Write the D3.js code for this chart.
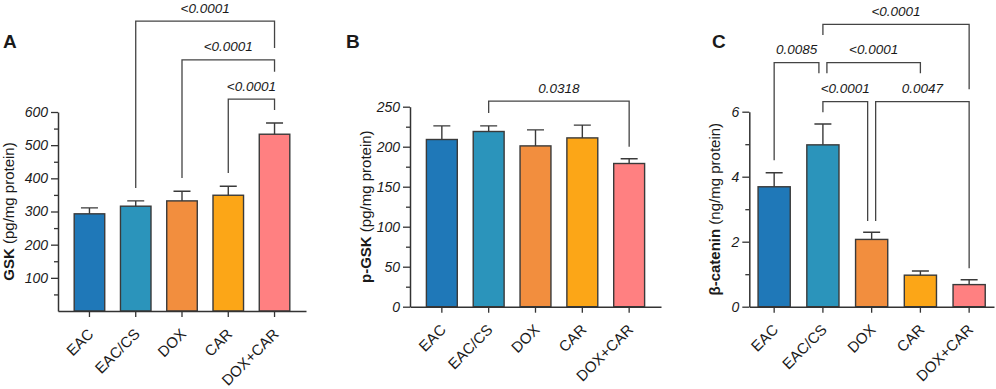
<!DOCTYPE html>
<html>
<head>
<meta charset="utf-8">
<script src="https://cdn.jsdelivr.net/npm/d3@7"></script>
<style>
    body { margin: 0; background: #fff; }
    text { font-family: Arial, "Liberation Sans", Helvetica, sans-serif; fill: #1a1a1a; }
</style>
</head>
<body>
<div id="chart"></div>
<script>
// groups and bar colours (shared by all three panels)
const groups = ["EAC", "EAC/CS", "DOX", "CAR", "DOX+CAR"];
const barColors = ["#1f78b8", "#2b94bb", "#f28e3e", "#fca617", "#ff8081"];

// Panel A: GSK (pg/mg protein)
const gskMean = [293, 316, 332, 349, 533];
const gskSem = [18, 16, 29, 27, 34];
const gskTicks = [100, 200, 300, 400, 500, 600];
const gskMinor = [50, 150, 250, 350, 450, 550];
const gskBrackets = [
    {a: "EAC/CS", b: "DOX+CAR", y: 874, ya: 371, yb: 793, p: "<0.0001"},
    {a: "DOX", b: "DOX+CAR", y: 757, ya: 401, yb: 721, p: "<0.0001"},
    {a: "CAR", b: "DOX+CAR", y: 639, ya: 416, yb: 606, p: "<0.0001"}
];

// Panel B: p-GSK (pg/mg protein)
const pgskMean = [209, 219, 201, 211, 179];
const pgskSem = [17, 7, 20, 16, 6];
const pgskTicks = [0, 50, 100, 150, 200, 250];
const pgskMinor = [25, 75, 125, 175, 225];
const pgskBrackets = [
    {a: "EAC/CS", b: "DOX+CAR", y: 257, ya: 242, yb: 200, p: "0.0318"}
];

// Panel C: beta-catenin (ng/mg protein)
const bcatMean = [3.69, 4.98, 2.07, 0.97, 0.68];
const bcatSem = [0.43, 0.64, 0.22, 0.13, 0.15];
const bcatTicks = [0, 2, 4, 6];
const bcatMinor = [1, 3, 5];
const bcatBrackets = [
    {a: "EAC/CS", b: "DOX+CAR", y: 8.69, ya: 8.36, yb: 6.69, p: "<0.0001"},
    {a: "EAC", b: "EAC/CS", y: 7.51, ya: 4.51, yb: 7.18, p: "0.0085"},
    {a: "EAC/CS", b: "CAR", y: 7.51, ya: 7.18, yb: 7.18, p: "<0.0001"},
    {a: "EAC/CS", b: "DOX", y: 6.31, ya: 5.98, yb: 2.64, p: "<0.0001"},
    {a: "DOX", b: "DOX+CAR", y: 6.31, ya: 2.64, yb: 1.18, p: "0.0047"}
];

const svg = d3.select("#chart").append("svg")
    .attr("width", 996)
    .attr("height", 389);

const axisColor = "#333";

function drawPanel(cfg) {
    let g = svg.append("g");

    let x = d3.scaleBand()
        .domain(groups)
        .range([cfg.x0, cfg.x1])
        .paddingInner(0.34)
        .paddingOuter(cfg.outer);

    let y = d3.scaleLinear()
        .domain([0, cfg.max])
        .range([cfg.bottom, cfg.top]);

    // bars
    g.selectAll(".bar")
        .data(cfg.mean)
        .enter()
        .append("rect")
        .attr("x", (d, i) => x(groups[i]))
        .attr("y", d => y(d))
        .attr("width", x.bandwidth())
        .attr("height", d => y(0) - y(d))
        .attr("fill", (d, i) => barColors[i])
        .attr("stroke", "#3a3a3a")
        .attr("stroke-width", 1.4);

    // upper error bars with cap
    let cx = i => x(groups[i]) + x.bandwidth() / 2;
    let capW = 8.5;
    g.selectAll(".err")
        .data(cfg.mean)
        .enter()
        .append("path")
        .attr("d", (d, i) => {
            let top = y(d + cfg.sem[i]);
            return `M${cx(i)},${y(d)}V${top}M${cx(i) - capW},${top}H${cx(i) + capW}`;
        })
        .attr("fill", "none")
        .attr("stroke", "#3a3a3a")
        .attr("stroke-width", 1.4);

    // y axis: major and minor ticks
    let yAxis = g.append("g")
        .attr("transform", `translate(${cfg.x0},0)`)
        .attr("color", axisColor)
        .call(d3.axisLeft(y).tickValues(cfg.ticks).tickSize(7).tickPadding(3).tickSizeOuter(0).tickFormat(d3.format("d")));
    yAxis.select(".domain").attr("stroke-width", 1.5);
    yAxis.selectAll(".tick line").attr("stroke-width", 1.3);
    yAxis.selectAll(".tick text")
        .attr("fill", "#1a1a1a")
        .style("font-size", "14px")
        .style("font-style", "italic");

    let yMinor = g.append("g")
        .attr("transform", `translate(${cfg.x0},0)`)
        .attr("color", axisColor)
        .call(d3.axisLeft(y).tickValues(cfg.minor).tickSize(4).tickFormat(""));
    yMinor.select(".domain").remove();
    yMinor.selectAll(".tick line").attr("stroke-width", 1.3);

    // x axis
    let xAxis = g.append("g")
        .attr("transform", `translate(0,${cfg.bottom})`)
        .attr("color", axisColor)
        .call(d3.axisBottom(x).tickSize(6).tickSizeOuter(0));
    xAxis.select(".domain").attr("stroke-width", 1.5);
    xAxis.selectAll(".tick line").attr("stroke-width", 1.3);
    xAxis.selectAll(".tick text")
        .attr("fill", "#1a1a1a")
        .attr("x", 0)
        .attr("y", 0)
        .attr("dy", 0)
        .attr("transform", "translate(5,24) rotate(-45)")
        .style("text-anchor", "end")
        .style("font-size", "15px");

    // y axis title, bold measure name + units
    let title = g.append("text")
        .attr("transform", `translate(${cfg.titleX},${(cfg.top + cfg.bottom) / 2}) rotate(-90)`)
        .attr("text-anchor", "middle")
        .style("font-size", "15px");
    title.append("tspan").style("font-weight", "bold").text(cfg.measure);
    title.append("tspan").text(" " + cfg.units);

    // panel letter
    g.append("text")
        .attr("x", cfg.letterX)
        .attr("y", 48)
        .style("font-size", "19px")
        .style("font-weight", "bold")
        .text(cfg.letter);

    // significance brackets; ends that meet another bracket at the same level are nudged apart
    let nudge = 4;
    cfg.brackets.forEach(b => {
        let xa = x(b.a) + x.bandwidth() / 2;
        let xb = x(b.b) + x.bandwidth() / 2;
        if (cfg.brackets.some(o => o !== b && o.y === b.y && o.b === b.a)) xa += nudge;
        if (cfg.brackets.some(o => o !== b && o.y === b.y && o.a === b.b)) xb -= nudge;
        let yy = y(b.y);

        g.append("path")
            .attr("d", `M${xa},${y(b.ya)}V${yy}H${xb}V${y(b.yb)}`)
            .attr("fill", "none")
            .attr("stroke", "#444")
            .attr("stroke-width", 1.3);

        g.append("text")
            .attr("x", (xa + xb) / 2)
            .attr("y", yy - 8.5)
            .attr("text-anchor", "middle")
            .style("font-size", "13.5px")
            .style("font-style", "italic")
            .text(b.p);
    });
}

drawPanel({
    letter: "A", letterX: 3,
    measure: "GSK", units: "(pg/mg protein)", titleX: 14,
    x0: 58, x1: 306, outer: 0.35,
    top: 112, bottom: 311, max: 600,
    mean: gskMean, sem: gskSem,
    ticks: gskTicks, minor: gskMinor,
    brackets: gskBrackets
});

drawPanel({
    letter: "B", letterX: 346,
    measure: "p-GSK", units: "(pg/mg protein)", titleX: 371,
    x0: 410, x1: 661, outer: 0.35,
    top: 106.7, bottom: 306.7, max: 250,
    mean: pgskMean, sem: pgskSem,
    ticks: pgskTicks, minor: pgskMinor,
    brackets: pgskBrackets
});

drawPanel({
    letter: "C", letterX: 712,
    measure: "β-catenin", units: "(ng/mg protein)", titleX: 720,
    x0: 749.3, x1: 994, outer: 0.18,
    top: 111.7, bottom: 306.7, max: 6,
    mean: bcatMean, sem: bcatSem,
    ticks: bcatTicks, minor: bcatMinor,
    brackets: bcatBrackets
});
</script>
</body>
</html>
